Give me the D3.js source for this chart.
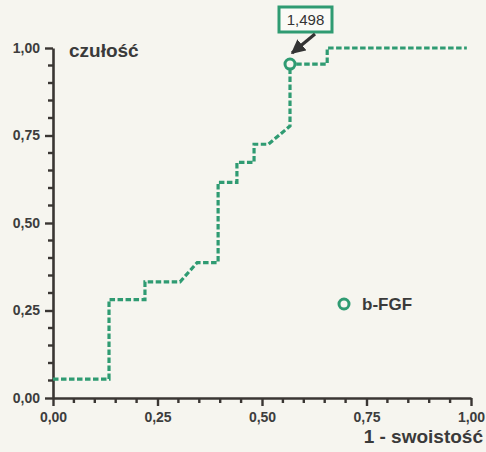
<!DOCTYPE html>
<html>
<head>
<meta charset="utf-8">
<script src="https://cdn.jsdelivr.net/npm/d3@7"></script>
<style>
  html, body { margin: 0; padding: 0; background: #f6f5ef; }
  svg { display: block; font-family: "Liberation Sans", Arial, sans-serif; }
</style>
</head>
<body>
<div id="chart"></div>
<script>
// ROC curve, b-FGF

var fpr = [0, 0.134, 0.134, 0.220, 0.220, 0.304, 0.345, 0.395, 0.395, 0.440, 0.440,
           0.481, 0.481, 0.515, 0.567, 0.567, 0.656, 0.656, 0.99];
var tpr = [0.054, 0.054, 0.281, 0.281, 0.332, 0.332, 0.387, 0.387, 0.616, 0.616, 0.673,
           0.673, 0.725, 0.725, 0.777, 0.954, 0.954, 1.0, 1.0];
var cutoff = { fpr: 0.567, tpr: 0.954, label: "1,498" };
var majorTicks = [0, 0.25, 0.5, 0.75, 1];
var minorTicks = [0.05, 0.1, 0.15, 0.2, 0.3, 0.35, 0.4, 0.45, 0.55, 0.6, 0.65, 0.7,
                  0.8, 0.85, 0.9, 0.95];
var seriesName = "b-FGF";
var xTitle = "1 - swoistość";
var yTitle = "czułość";

var W = 486, H = 452,
    green = "#2f9b72",
    ink = "#3a3633";

var svg = d3.select("#chart").append("svg")
  .attr("width", W).attr("height", H);

var x = d3.scaleLinear().domain([0, 1]).range([53, 471]);
var y = d3.scaleLinear().domain([0, 1]).range([398, 48]);

var fmt = function(d) { return d3.format(".2f")(d).replace(".", ","); };

function styleAxis(g) {
  g.select(".domain").attr("stroke", ink).attr("stroke-width", 2.6);
  g.selectAll(".tick line").attr("stroke", ink).attr("stroke-width", 2.4);
  g.selectAll("text")
    .attr("fill", "#3d3d3d")
    .attr("font-size", 14)
    .attr("font-weight", "bold");
}

// major ticks
svg.append("g")
  .attr("transform", "translate(0," + y(0) + ")")
  .call(d3.axisBottom(x).tickValues(majorTicks).tickSize(8).tickSizeOuter(0)
    .tickPadding(6).tickFormat(fmt))
  .call(styleAxis);
svg.append("g")
  .attr("transform", "translate(" + x(0) + ",0)")
  .call(d3.axisLeft(y).tickValues(majorTicks).tickSize(8).tickSizeOuter(0)
    .tickPadding(5).tickFormat(fmt))
  .call(styleAxis);

// minor ticks
svg.append("g").selectAll("rect")
  .data(minorTicks)
  .join("rect")
  .attr("x", function(d) { return x(d) - 1.2; })
  .attr("y", y(0))
  .attr("width", 2.4).attr("height", 5)
  .attr("fill", ink);
svg.append("g").selectAll("rect")
  .data(minorTicks)
  .join("rect")
  .attr("x", x(0) - 5)
  .attr("y", function(d) { return y(d) - 1.2; })
  .attr("width", 5).attr("height", 2.4)
  .attr("fill", ink);

// axis titles
svg.append("text")
  .attr("x", 69).attr("y", 57)
  .attr("font-size", 19).attr("font-weight", "bold").attr("fill", "#3a3a3a")
  .text(yTitle);
svg.append("text")
  .attr("x", 483).attr("y", 443)
  .attr("text-anchor", "end")
  .attr("font-size", 19).attr("font-weight", "bold").attr("fill", "#3a3a3a")
  .text(xTitle);

// curve
var pts = fpr.map(function(d, i) { return [d, tpr[i]]; });
var line = d3.line()
  .x(function(d) { return x(d[0]); })
  .y(function(d) { return y(d[1]); });

svg.append("path")
  .datum(pts)
  .attr("d", line)
  .attr("fill", "none")
  .attr("stroke", green)
  .attr("stroke-width", 3.2)
  .attr("stroke-dasharray", "5.5,2.5");

// cutoff marker
var cx = x(cutoff.fpr), cy = y(cutoff.tpr);
svg.append("circle")
  .attr("cx", cx).attr("cy", cy).attr("r", 5)
  .attr("fill", "#f6f5ef").attr("stroke", green).attr("stroke-width", 3);

// callout box + arrow
var bx = 279, by = 7, bw = 53, bh = 25;
svg.append("rect")
  .attr("x", bx).attr("y", by).attr("width", bw).attr("height", bh)
  .attr("fill", "#fafaf6").attr("stroke", green).attr("stroke-width", 3);
svg.append("text")
  .attr("x", bx + bw / 2).attr("y", by + 18)
  .attr("text-anchor", "middle")
  .attr("font-size", 15).attr("fill", "#333")
  .text(cutoff.label);

svg.append("defs").append("marker")
  .attr("id", "head")
  .attr("viewBox", "0 0 10 10")
  .attr("refX", 9).attr("refY", 5)
  .attr("markerWidth", 4.5).attr("markerHeight", 4.5)
  .attr("markerUnits", "strokeWidth")
  .attr("orient", "auto")
  .append("path")
  .attr("d", "M0,0L10,5L0,10z")
  .attr("fill", "#333");

svg.append("line")
  .attr("x1", 315).attr("y1", by + bh + 2)
  .attr("x2", cx + 2).attr("y2", cy - 11)
  .attr("stroke", "#333").attr("stroke-width", 3.2)
  .attr("marker-end", "url(#head)");

// legend
svg.append("circle")
  .attr("cx", 344).attr("cy", 304).attr("r", 5)
  .attr("fill", "#f6f5ef").attr("stroke", green).attr("stroke-width", 3);
svg.append("text")
  .attr("x", 362).attr("y", 310)
  .attr("font-size", 17).attr("font-weight", "bold").attr("fill", "#3a3a3a")
  .text(seriesName);
</script>
</body>
</html>
